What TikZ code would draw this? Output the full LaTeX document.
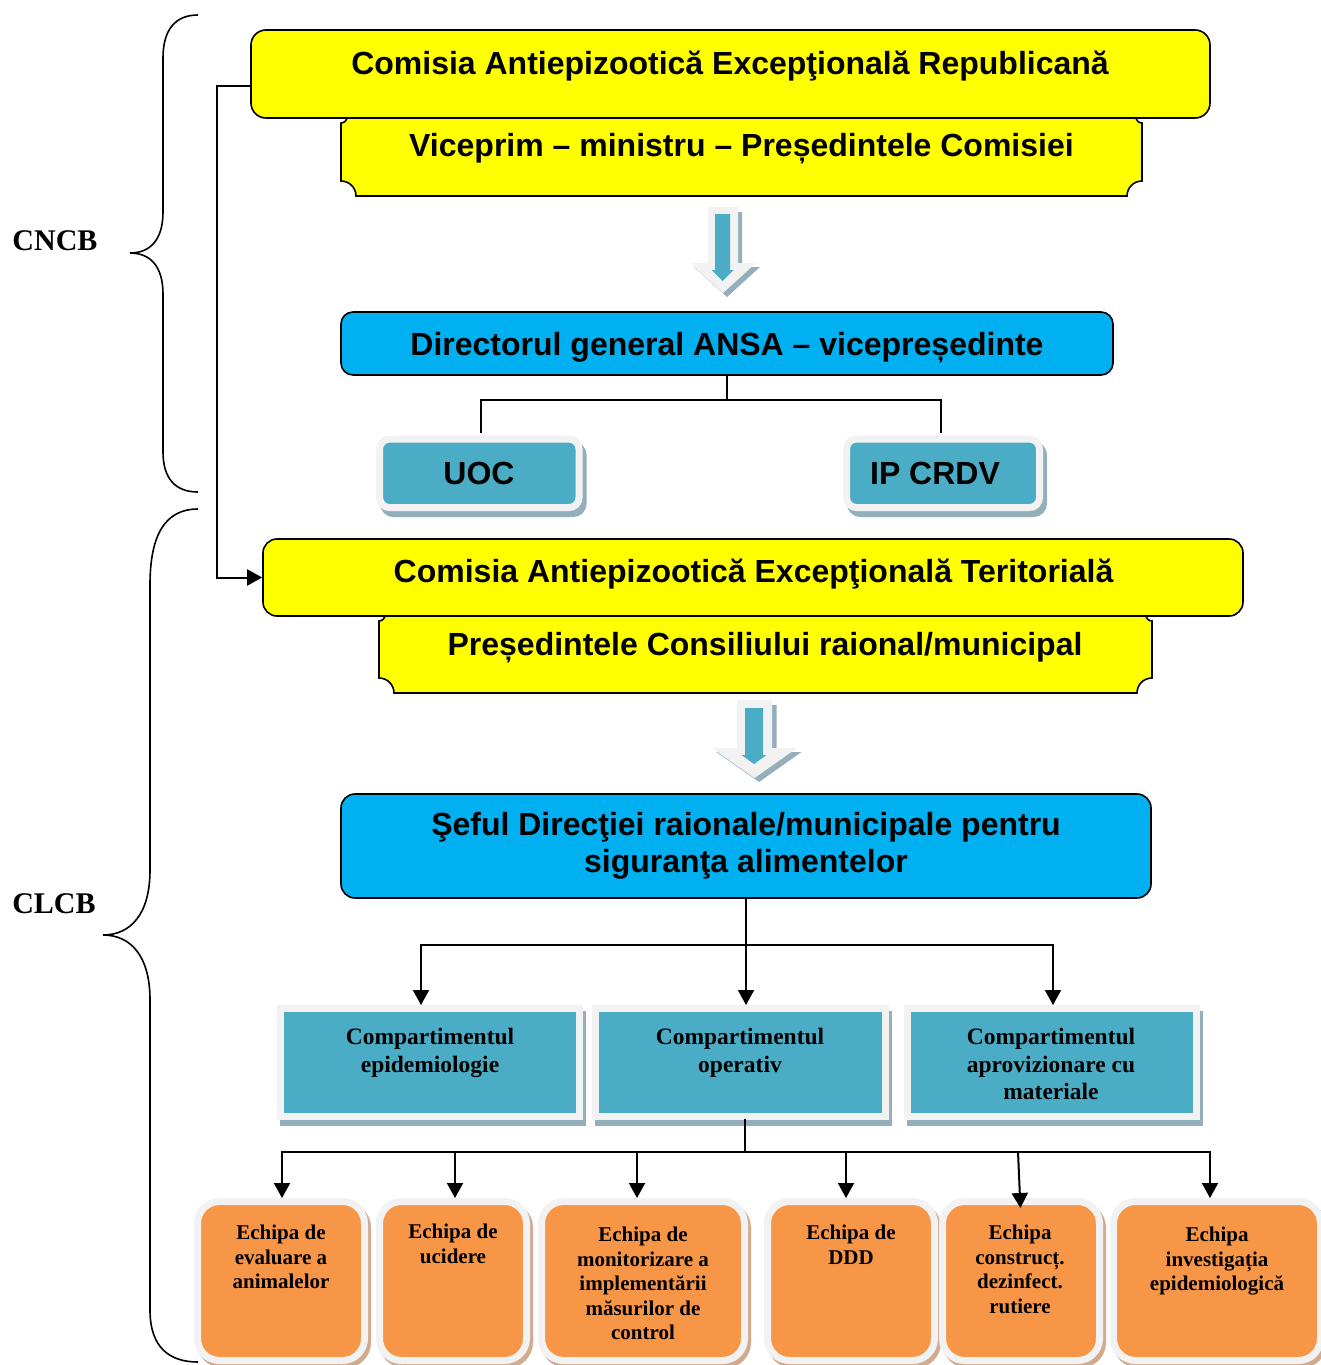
\documentclass[tikz,border=0pt]{standalone}
\usepackage{fontspec}
\setmainfont{Liberation Serif}
\setsansfont{Liberation Sans}
\usetikzlibrary{arrows.meta,shadows}
\definecolor{yel}{HTML}{FFFF00}
\definecolor{sky}{HTML}{00B0F0}
\definecolor{tealc}{HTML}{4BACC6}
\definecolor{framec}{HTML}{F2F2F2}
\definecolor{tshadow}{HTML}{93AFBC}
\definecolor{oran}{HTML}{F79646}
\definecolor{oshadow}{HTML}{D2AA8E}
\newcommand{\myarrowpath}[7]{(#1-#3,#2) -- (#1+#3,#2) -- (#1+#3,#4) -- (#1+#5,#4) -- (#1,#6) -- (#1-#5,#4) -- (#1-#3,#4) -- cycle}
\begin{document}
\begin{tikzpicture}[x=1pt,y=-1pt,
  bigtext/.style={font=\sffamily\bfseries\fontsize{32}{37}\selectfont, inner sep=0pt, align=center},
  ybox/.style={draw=black, line width=1.6pt, fill=yel, rounded corners=15pt, inner sep=0pt},
  bbox/.style={draw=black, line width=1.6pt, fill=sky, rounded corners=12pt, inner sep=0pt},
  uframe/.style={draw=framec, line width=7pt, fill=tealc, rounded corners=10pt, inner sep=0pt,
     drop shadow={shadow xshift=4pt,shadow yshift=-6pt,fill=tshadow,draw=tshadow,line width=7pt,opacity=1}},
  tframe/.style={draw=framec, line width=7pt, fill=tealc, inner sep=0pt,
     drop shadow={shadow xshift=3pt,shadow yshift=-6pt,fill=tshadow,draw=tshadow,line width=7pt,opacity=1}},
  oframe/.style={draw=framec, line width=7pt, fill=oran, rounded corners=22pt, inner sep=0pt,
     drop shadow={shadow xshift=3pt,shadow yshift=-4pt,fill=oshadow,draw=oshadow,line width=7pt,opacity=1}},
  otext/.style={font=\rmfamily\bfseries\fontsize{21}{24.5}\selectfont, align=center, inner sep=0pt, anchor=north},
  ctext/.style={font=\rmfamily\bfseries\fontsize{23.5}{27.5}\selectfont, align=center, inner sep=0pt, anchor=north},
  lbl/.style={font=\rmfamily\bfseries\fontsize{30}{34}\selectfont, inner sep=0pt},
  conn/.style={line width=2pt, draw=black, line cap=rect},
  arr/.style={line width=2pt, draw=black, -{Triangle[width=16pt,length=15pt]}},
  brace/.style={line width=1.6pt, draw=black}
]
\useasboundingbox (0,0) rectangle (1320,1365);

% ---------- braces and labels ----------
\draw[brace] (198,15) .. controls (175,15) and (163,30) .. (163,58) -- (163,212)
  .. controls (163,240) and (150,253) .. (130,253)
  .. controls (150,253) and (163,266) .. (163,294) -- (163,452)
  .. controls (163,478) and (175,492) .. (198,492);
\draw[brace] (198,509) .. controls (165,509) and (150,535) .. (150,585) -- (150,870)
  .. controls (150,915) and (130,935) .. (103,935)
  .. controls (130,935) and (150,955) .. (150,1000) -- (150,1310)
  .. controls (150,1348) and (170,1362) .. (198,1362);
\node[lbl] (cncb) at (55,241) {CNCB};
\node[lbl] (clcb) at (54,904) {CLCB};

% ---------- top yellow group ----------
\draw[line width=1.6pt, fill=yel] (347,117) -- (1136,117)
  .. controls (1136,120.3) and (1138.7,123) .. (1142,123) -- (1142,181)
  .. controls (1133.7,181) and (1127,187.7) .. (1127,196) -- (356,196)
  .. controls (356,187.7) and (349.3,181) .. (341,181) -- (341,123)
  .. controls (344.3,123) and (347,120.3) .. (347,117) -- cycle;
\node[ybox, minimum width=959pt, minimum height=88pt] (cer) at (730.5,74) {};
\node[bigtext, anchor=base] (cert) at (730,74) {Comisia Antiepizootică Excepţională Republicană};
\node[bigtext, anchor=base] (vicet) at (741.5,156) {Viceprim – ministru – Președintele Comisiei};

% block arrow 1
\fill[tshadow] \myarrowpath{727}{212}{15}{267}{33}{297}{};
\fill[framec] \myarrowpath{723}{207}{15}{263}{33}{293}{};
\fill[tealc] \myarrowpath{722.5}{214}{7.5}{270}{11}{281}{};

\node[bbox, minimum width=772pt, minimum height=63pt] (dir) at (727,343.5) {};
\node[bigtext, anchor=base] (dirt) at (727,355) {Directorul general ANSA – vicepreședinte};

\node[uframe, minimum width=199.5pt, minimum height=68.5pt] (uoc) at (479.3,473.3) {};
\node[uframe, minimum width=193pt, minimum height=68.5pt] (ip) at (943,473.3) {};
\node[bigtext] (uoct) at (479,473) {UOC};
\node[bigtext] (ipt) at (935,473) {IP CRDV};

\coordinate (dj) at (727,400);
\draw[conn] (dir.south) -- (dj);
\draw[conn, shorten <=4pt] ([xshift=1.5pt]uoc.north) |- (dj);
\draw[conn, shorten >=4pt] (dj) -| ([xshift=-2pt]ip.north);

% ---------- territorial yellow group ----------
\draw[line width=1.6pt, fill=yel] (385,615) -- (1146,615)
  .. controls (1146,618.3) and (1148.7,621) .. (1152,621) -- (1152,678)
  .. controls (1143.7,678) and (1137,684.7) .. (1137,693) -- (394,693)
  .. controls (394,684.7) and (387.3,678) .. (379,678) -- (379,621)
  .. controls (382.3,621) and (385,618.3) .. (385,615) -- cycle;
\node[ybox, minimum width=980pt, minimum height=77pt, rounded corners=14pt] (ter) at (753,577.5) {};
\node[bigtext, anchor=base] (tert) at (753.5,582) {Comisia Antiepizootică Excepţională Teritorială};
\node[bigtext, anchor=base] (prest) at (765,655) {Președintele Consiliului raional/municipal};

\coordinate (lk) at (217,0);
\draw[arr] ([yshift=-12pt]cer.west) -| (lk |- ter.west) -- (ter.west);

% block arrow 2
\fill[tshadow] \myarrowpath{759}{705}{17.5}{752}{42.5}{782}{};
\fill[framec] \myarrowpath{754.5}{700}{17.5}{748}{42.5}{778}{};
\fill[tealc] \myarrowpath{754}{708}{9}{755}{12.5}{764}{};

\node[bbox, minimum width=810pt, minimum height=104pt, rounded corners=14pt,
  font=\sffamily\bfseries\fontsize{32}{37}\selectfont, align=center] (sef) at (746,846)
  {Şeful Direcţiei raionale/municipale pentru\\siguranţa alimentelor};

% ---------- compartments ----------
\node[tframe, minimum width=299pt, minimum height=108pt] (c1) at (430,1062.5) {};
\node[tframe, minimum width=290pt, minimum height=108pt] (c2) at (740.5,1062.5) {};
\node[tframe, minimum width=289pt, minimum height=108pt] (c3) at (1052,1062.5) {};
\node[ctext] (c1t) at (430,1028) {Compartimentul\\epidemiologie};
\node[ctext] (c2t) at (740,1028) {Compartimentul\\operativ};
\node[ctext] (c3t) at (1051,1028) {Compartimentul\\aprovizionare cu\\materiale};

\coordinate (hj) at (745,945);
\draw[arr] (sef.south) -- (sef.south |- c2.north);
\draw[conn] ([xshift=-9pt]c1.north |- hj) -- ([xshift=1pt]c3.north |- hj);
\draw[arr] ([xshift=-9pt]c1.north |- hj) -- ([xshift=-9pt]c1.north);
\draw[arr] ([xshift=1pt]c3.north |- hj) -- ([xshift=1pt]c3.north);

% ---------- teams ----------
\node[oframe, minimum width=167pt, minimum height=159pt] (e1) at (281,1281) {};
\node[oframe, minimum width=147pt, minimum height=159pt] (e2) at (453,1281) {};
\node[oframe, minimum width=203pt, minimum height=159pt] (e3) at (643,1281) {};
\node[oframe, minimum width=167pt, minimum height=159pt] (e4) at (851,1281) {};
\node[oframe, minimum width=157pt, minimum height=159pt] (e5) at (1021,1281) {};
\node[oframe, minimum width=207pt, minimum height=159pt] (e6) at (1217,1281) {};
\node[otext] (e1t) at (281,1225) {Echipa de\\evaluare a\\animalelor};
\node[otext] (e2t) at (453,1224) {Echipa de\\ucidere};
\node[otext] (e3t) at (643,1227) {Echipa de\\monitorizare a\\implementării\\măsurilor de\\control};
\node[otext] (e4t) at (851,1225) {Echipa de\\DDD};
\node[otext] (e5t) at (1020,1225) {Echipa\\construcț.\\dezinfect.\\rutiere};
\node[otext] (e6t) at (1217,1227) {Echipa\\investigația\\epidemiologică};

\coordinate (hj2) at (745,1152);
\draw[conn] (hj2 |- c2.south) -- (hj2);
\draw[conn] ([xshift=1pt]e1.north |- hj2) -- ([xshift=-7pt]e6.north |- hj2);
\draw[arr] ([xshift=1pt]e1.north |- hj2) -- ([xshift=1pt]e1.north);
\draw[arr] ([xshift=2pt]e2.north |- hj2) -- ([xshift=2pt]e2.north);
\draw[arr] ([xshift=-6pt]e3.north |- hj2) -- ([xshift=-6pt]e3.north);
\draw[arr] ([xshift=-5pt]e4.north |- hj2) -- ([xshift=-5pt]e4.north);
\draw[arr, shorten >=-10pt] ([xshift=-3pt]e5.north |- hj2) -- ([xshift=-1pt]e5.north);
\draw[arr] ([xshift=-7pt]e6.north |- hj2) -- ([xshift=-7pt]e6.north);
\end{tikzpicture}
\end{document}
